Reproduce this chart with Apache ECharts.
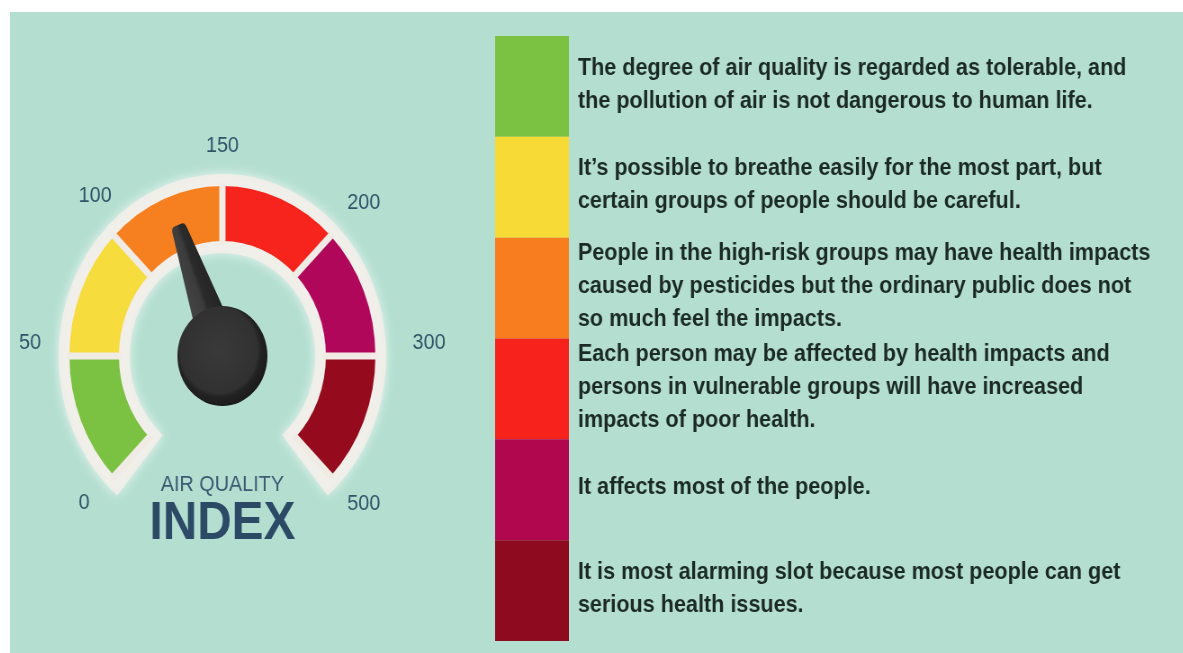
<!DOCTYPE html>
<html>
<head>
<meta charset="utf-8">
<title>Air Quality Index</title>
<script src="https://cdn.jsdelivr.net/npm/echarts@6/dist/echarts.min.js"></script>
<style>
  html, body { margin: 0; padding: 0; background: #ffffff; width: 1183px; height: 653px; overflow: hidden; }
  #wrap {
    position: absolute; left: 10px; top: 12px;
    width: 1303px; height: 641px;
    transform: scaleX(0.9); transform-origin: 0 0;
  }
</style>
</head>
<body>
<div id="wrap"></div>
<script>
// AQI band boundaries shown around the dial
const tickLabels = ['0', '50', '100', '150', '200', '300', '500'];
const tickValues = [0, 50, 100, 150, 200, 300, 500];
// colour of each band, lowest to highest
const bandColors = ['#7cc242', '#f7da35', '#f77d1f', '#f7221b', '#b0074f', '#8e0a1e'];
const dialColors = ['#7cc242', '#f6dc3c', '#f6801f', '#f6241c', '#b1075a', '#950a1d'];
// current reading shown by the needle
const aqiValue = 127;
// description for each band
const bandTexts = [
  'The degree of air quality is regarded as tolerable, and\nthe pollution of air is not dangerous to human life.',
  'It\u2019s possible to breathe easily for the most part, but\ncertain groups of people should be careful.',
  'People in the high-risk groups may have health impacts\ncaused by pesticides but the ordinary public does not\nso much feel the impacts.',
  'Each person may be affected by health impacts and\npersons in vulnerable groups will have increased\nimpacts of poor health.',
  'It affects most of the people.',
  'It is most alarming slot because most people can get\nserious health issues.'
];
const bandNames = ['Good', 'Moderate', 'Sensitive', 'Unhealthy', 'Very Unhealthy', 'Hazardous'];

// the dial gives every band the same arc, so map an AQI reading onto band position
function aqiToDial(v) {
  for (let i = 0; i < tickValues.length - 1; i++) {
    if (v <= tickValues[i + 1]) {
      return i + (v - tickValues[i]) / (tickValues[i + 1] - tickValues[i]);
    }
  }
  return tickValues.length - 1;
}

const nBands = bandColors.length;
const FONT = '"Liberation Sans", Arial, sans-serif';
const CENTER = [236, 344];
const R = 170, W = 55;
const START = 225, END = -45;

const tickFont = { color: '#2f5468', fontSize: 22, fontFamily: FONT };
// small vertical nudges for some tick labels
const tickRich = {
  t: Object.assign({}, tickFont),
  up: Object.assign({ padding: [0, 0, 26, 0] }, tickFont),
  up2: Object.assign({ padding: [0, 0, 54, 0] }, tickFont),
  dn1: Object.assign({ padding: [5, 0, 0, 0] }, tickFont),
  dn2: Object.assign({ padding: [44, 0, 0, 0] }, tickFont)
};
const tickStyleName = ['up', 'up', 't', 'dn1', 'dn2', 'up', 'up2'];

// a bare dial ring that only carries tick labels for one side
function labelRing(distance, keep) {
  return {
    type: 'gauge',
    center: CENTER, radius: R,
    startAngle: START, endAngle: END,
    min: 0, max: nBands, splitNumber: nBands,
    axisLine: { show: false },
    axisTick: { show: false },
    splitLine: { show: false },
    axisLabel: Object.assign({
      show: true,
      distance: distance,
      rich: tickRich,
      formatter: v => {
        const i = Math.round(v);
        return keep(i) ? '{' + tickStyleName[i] + '|' + tickLabels[i] + '}' : '';
      }
    }, tickFont),
    pointer: { show: false },
    anchor: { show: false },
    title: { show: false },
    detail: { show: false },
    data: []
  };
}

const chart = echarts.init(document.getElementById('wrap'), null, { renderer: 'canvas' });

chart.setOption({
  backgroundColor: '#b4dfd0',
  animation: false,
  grid: { left: 539, top: 24, width: 82, height: 605 },
  xAxis: { type: 'value', min: 0, max: 1, show: false },
  yAxis: { type: 'category', data: bandNames, inverse: true, show: false },
  series: [
    // soft light halo behind the dial
    {
      type: 'gauge',
      center: CENTER,
      radius: R + 12,
      startAngle: START + 5,
      endAngle: END - 5,
      min: 0, max: nBands,
      axisLine: {
        lineStyle: {
          width: W + 24,
          color: [[1, 'rgba(243,238,232,0.88)']],
          shadowBlur: 12,
          shadowColor: 'rgba(255,255,255,0.85)'
        }
      },
      axisTick: { show: false },
      splitLine: { show: false },
      axisLabel: { show: false },
      pointer: { show: false },
      anchor: { show: false },
      title: { show: false },
      detail: { show: false },
      data: []
    },
    // tick labels: low side and top, then high side
    labelRing(-76, i => i <= 3),
    labelRing(-98, i => i >= 4),
    // coloured dial with needle
    {
      type: 'gauge',
      center: CENTER,
      radius: R,
      startAngle: START,
      endAngle: END,
      min: 0, max: nBands,
      splitNumber: nBands,
      axisLine: {
        lineStyle: {
          width: W,
          color: dialColors.map((c, i) => [(i + 1) / nBands, c])
        }
      },
      axisTick: { show: false },
      splitLine: {
        show: true,
        distance: -W - 3,
        length: W + 6,
        lineStyle: { color: '#f1ebe5', width: 7 }
      },
      axisLabel: { show: false },
      pointer: {
        show: true,
        icon: 'path://M24,0 L36,0 Q41,0 41.5,5 L60,100 L0,100 L18.5,5 Q19,0 24,0 Z',
        length: 140,
        width: 45,
        offsetCenter: [0, 0],
        itemStyle: {
          color: {
            type: 'linear', x: 0, y: 0, x2: 1, y2: 0,
            colorStops: [
              { offset: 0, color: '#474747' },
              { offset: 0.45, color: '#3c3c3c' },
              { offset: 0.55, color: '#2a2a2a' },
              { offset: 1, color: '#232323' }
            ]
          }
        }
      },
      anchor: {
        show: true,
        showAbove: true,
        size: 100,
        itemStyle: {
          color: {
            type: 'radial', x: 0.46, y: 0.44, r: 0.55,
            colorStops: [
              { offset: 0, color: '#3a3a3a' },
              { offset: 0.78, color: '#313131' },
              { offset: 0.86, color: '#222222' },
              { offset: 1, color: '#1c1c1c' }
            ]
          }
        }
      },
      title: {
        show: true,
        offsetCenter: [0, 129],
        color: '#3d5b73',
        fontSize: 22,
        fontFamily: FONT
      },
      detail: {
        show: true,
        offsetCenter: [0, 168],
        formatter: () => 'INDEX',
        color: '#2c4a66',
        fontSize: 53,
        fontWeight: 'bold',
        fontFamily: FONT
      },
      data: [{ value: aqiToDial(aqiValue), name: 'AIR QUALITY' }]
    },
    // colour key with band descriptions
    {
      type: 'bar',
      barWidth: '100%',
      barCategoryGap: 0,
      data: bandColors.map(c => ({ value: 1, itemStyle: { color: c } })),
      label: {
        show: true,
        position: 'right',
        distance: 10,
        offset: [0, -2],
        formatter: p => bandTexts[p.dataIndex],
        color: '#1b2a25',
        fontSize: 24,
        fontWeight: 'bold',
        lineHeight: 33,
        fontFamily: FONT
      }
    }
  ]
});
</script>
</body>
</html>
